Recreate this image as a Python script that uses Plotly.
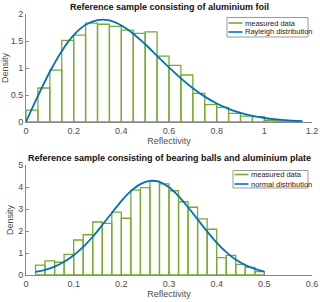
import plotly.graph_objects as go

# --- Top: aluminium foil ---
foil_bin_left = [0.00, 0.05, 0.10, 0.15, 0.20, 0.25, 0.30, 0.35, 0.40, 0.45, 0.50, 0.55,
                 0.60, 0.65, 0.70, 0.75, 0.80, 0.85, 0.90, 0.95, 1.00, 1.05, 1.10]
foil_bin_width = 0.05
foil_density = [0.22, 0.63, 0.96, 1.51, 1.61, 1.83, 1.81, 1.77, 1.70, 1.64, 1.67, 1.22,
                1.05, 0.87, 0.53, 0.32, 0.27, 0.16, 0.11, 0.10, 0.03, 0.02, 0.01]
rayleigh_x = [0.0, 0.05, 0.1, 0.15, 0.2, 0.25, 0.3, 0.35, 0.4, 0.45, 0.5, 0.55, 0.6,
              0.65, 0.7, 0.75, 0.8, 0.85, 0.9, 0.95, 1.0, 1.05, 1.1, 1.16]
rayleigh_y = [0.0, 0.482, 0.930, 1.312, 1.607, 1.799, 1.887, 1.880, 1.788, 1.635, 1.440,
              1.226, 1.010, 0.807, 0.625, 0.470, 0.343, 0.244, 0.168, 0.113, 0.074, 0.047,
              0.029, 0.016]

# --- Bottom: bearing balls and aluminium plate ---
balls_bin_left = [0.02, 0.04, 0.06, 0.08, 0.10, 0.12, 0.14, 0.16, 0.18, 0.20, 0.22, 0.24,
                  0.26, 0.28, 0.30, 0.32, 0.34, 0.36, 0.38, 0.40, 0.42, 0.44, 0.46, 0.48]
balls_bin_width = 0.02
balls_density = [0.45, 0.64, 0.58, 0.94, 1.59, 1.83, 2.41, 2.35, 2.86, 2.58, 3.86, 3.97,
                 4.26, 4.14, 3.83, 3.33, 3.08, 2.55, 2.08, 0.79, 0.89, 0.48, 0.35, 0.15]
normal_x = [0.02, 0.04, 0.06, 0.08, 0.10, 0.12, 0.14, 0.16, 0.18, 0.20, 0.22, 0.24, 0.26,
            0.28, 0.30, 0.32, 0.34, 0.36, 0.38, 0.40, 0.42, 0.44, 0.46, 0.48, 0.50]
normal_y = [0.14, 0.23, 0.38, 0.60, 0.90, 1.28, 1.74, 2.27, 2.82, 3.36, 3.81, 4.13, 4.28,
            4.23, 3.99, 3.59, 3.08, 2.53, 1.98, 1.47, 1.04, 0.70, 0.45, 0.28, 0.15]

top_legend = ["measured data", "Rayleigh distribution"]
bottom_legend = ["measured data", "normal distribution"]
titles = ["Reference sample consisting of aluminium foil",
          "Reference sample consisting of bearing balls and aluminium plate"]

GREEN = "#77AC30"
BLUE = "#0072BD"
GRAY = "#4d4d4d"
FONT = "Liberation Sans, Arial, sans-serif"
W, H = 320, 302

fig = go.Figure()

fig.add_trace(go.Bar(
    x=[l + foil_bin_width / 2 for l in foil_bin_left], y=foil_density, width=foil_bin_width,
    marker=dict(color="rgba(255,255,255,0)", line=dict(color=GREEN, width=1.3)),
    showlegend=False, xaxis="x", yaxis="y"))
fig.add_trace(go.Scatter(x=rayleigh_x, y=rayleigh_y, mode="lines", line_shape="spline",
                         name=top_legend[1], line=dict(color=BLUE, width=1.8),
                         showlegend=False, xaxis="x", yaxis="y"))

fig.add_trace(go.Bar(
    x=[l + balls_bin_width / 2 for l in balls_bin_left], y=balls_density, width=balls_bin_width,
    marker=dict(color="rgba(255,255,255,0)", line=dict(color=GREEN, width=1.3)),
    showlegend=False, xaxis="x2", yaxis="y2"))
fig.add_trace(go.Scatter(x=normal_x, y=normal_y, mode="lines", line_shape="spline",
                         name=bottom_legend[1], line=dict(color=BLUE, width=1.8),
                         showlegend=False, xaxis="x2", yaxis="y2"))

axis_common = dict(showgrid=False, zeroline=False, showline=True, linecolor="#888888",
                   linewidth=1, ticks="inside", ticklen=3, tickcolor="#888888",
                   tickfont=dict(size=9, color=GRAY, family=FONT), mirror=False)

ML, MR = 26, 8
PW = W - ML - MR


def px(xp):
    return (xp - ML) / PW


def py(yp):
    return 1 - yp / H


shapes = []
annotations = []


def add_legend(x0, x1, y0, y1, rows, labels):
    shapes.append(dict(type="rect", xref="paper", yref="paper", x0=px(x0), x1=px(x1),
                       y0=py(y1), y1=py(y0), line=dict(color="#999999", width=1),
                       fillcolor="white", layer="above"))
    for (yy, color), label in zip(rows, labels):
        shapes.append(dict(type="line", xref="paper", yref="paper", x0=px(x0 + 1.5),
                           x1=px(x0 + 15.5), y0=py(yy), y1=py(yy),
                           line=dict(color=color, width=1.6), layer="above"))
        annotations.append(dict(text=label, xref="paper", yref="paper", x=px(x0 + 16),
                                y=py(yy), xanchor="left", yanchor="middle", showarrow=False,
                                font=dict(size=7.5, color="#222222", family=FONT)))


add_legend(227, 308, 17.5, 37, [(23, GREEN), (32, BLUE)], top_legend)
add_legend(233, 308, 170.5, 188, [(174.5, GREEN), (184, BLUE)], bottom_legend)

annotations.append(dict(text="<b>%s</b>" % titles[0], x=0.5, y=py(6.5), xref="paper",
                        yref="paper", xanchor="center", yanchor="middle", showarrow=False,
                        font=dict(size=9, color="#111111", family=FONT)))
annotations.append(dict(text="<b>%s</b>" % titles[1], x=0.5, y=py(158), xref="paper",
                        yref="paper", xanchor="center", yanchor="middle", showarrow=False,
                        font=dict(size=9, color="#111111", family=FONT)))

fig.update_layout(
    width=W, height=H, margin=dict(l=ML, r=MR, t=0, b=0, autoexpand=False),
    paper_bgcolor="white", plot_bgcolor="white", barmode="overlay",
    font=dict(family=FONT, color=GRAY),
    xaxis=dict(domain=[0, 1], range=[0, 1.2], dtick=0.2, anchor="y",
               title=dict(text="Reflectivity", font=dict(size=9, color=GRAY), standoff=1),
               **axis_common),
    yaxis=dict(domain=[py(122), py(14)], range=[0, 2], dtick=0.5, anchor="x",
               title=dict(text="Density", font=dict(size=9, color=GRAY), standoff=3),
               **axis_common),
    xaxis2=dict(domain=[0, 1], range=[0, 0.6], dtick=0.1, anchor="y2",
                title=dict(text="Reflectivity", font=dict(size=9, color=GRAY), standoff=1),
                **axis_common),
    yaxis2=dict(domain=[py(275), py(165)], range=[0, 5], dtick=1, anchor="x2",
                title=dict(text="Density", font=dict(size=9, color=GRAY), standoff=3),
                **axis_common),
    shapes=shapes,
    annotations=annotations,
)

fig.write_html("out.html", config={"displayModeBar": False},
               post_script="document.body.style.margin='0';document.body.style.overflow='hidden';")
